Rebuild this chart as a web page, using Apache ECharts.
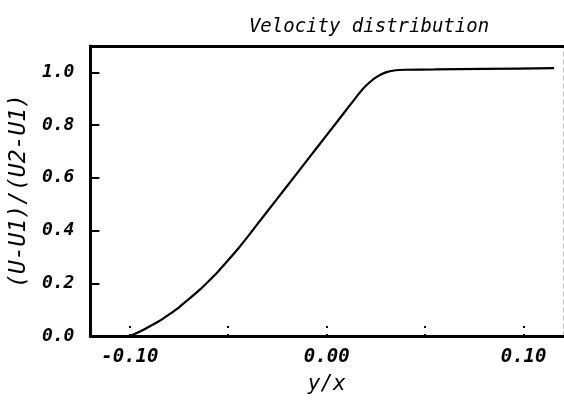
<!DOCTYPE html>
<html>
<head>
<meta charset="utf-8">
<script src="https://cdn.jsdelivr.net/npm/echarts@6/dist/echarts.min.js"></script>
<style>
  html, body { margin: 0; padding: 0; background: #fff; }
  #chart { width: 564px; height: 402px; }
</style>
</head>
<body>
<div id="chart"></div>
<script>
// Normalised mean velocity across the mixing layer
const yOverX = [-0.100, -0.095, -0.090, -0.085, -0.080, -0.075, -0.070, -0.065, -0.060,
                -0.055, -0.050, -0.045, -0.040, -0.030, -0.020, -0.010, 0.000, 0.010,
                0.017, 0.020, 0.025, 0.030, 0.035, 0.040, 0.055, 0.080, 0.1155];
const uRatio = [0.000, 0.016, 0.036, 0.057, 0.082, 0.109, 0.140, 0.172, 0.208,
                0.246, 0.288, 0.331, 0.378, 0.474, 0.570, 0.666, 0.762, 0.858,
                0.925, 0.950, 0.981, 1.000, 1.008, 1.010, 1.011, 1.013, 1.016];

const xTicks = [-0.10, -0.05, 0.00, 0.05, 0.10];
const xLabels = [-0.10, 0.00, 0.10];
const yTicks = [0.0, 0.2, 0.4, 0.6, 0.8, 1.0];

const FONT = 'DejaVu Sans Mono';

const chart = echarts.init(document.getElementById('chart'));
chart.setOption({
  backgroundColor: '#ffffff',
  animation: false,
  title: {
    text: 'Velocity distribution',
    left: 364,
    textAlign: 'center',
    top: 13,
    textStyle: { fontFamily: FONT, fontStyle: 'italic', fontWeight: 'normal', fontSize: 19, color: '#000' }
  },
  grid: { left: 88, right: 1, top: 46, bottom: 66 },
  xAxis: [{
    type: 'value',
    min: -0.12,
    max: 0.12,
    name: 'y/x',
    nameLocation: 'middle',
    nameGap: 38,
    nameTextStyle: { fontFamily: FONT, fontStyle: 'italic', fontSize: 21, color: '#000' },
    axisLine: { show: true, onZero: false, lineStyle: { color: '#000', width: 3 } },
    axisTick: { show: true, inside: true, length: 10, customValues: xTicks,
                lineStyle: { color: '#000', width: 2, type: [2, 6] } },
    axisLabel: { customValues: xLabels, margin: 12, color: '#000',
                 fontFamily: FONT, fontStyle: 'italic', fontWeight: 'bold', fontSize: 19,
                 formatter: v => v.toFixed(2) },
    splitLine: { show: false }
  }, {
    type: 'value',
    position: 'top',
    min: -0.12,
    max: 0.12,
    axisLine: { show: true, onZero: false, lineStyle: { color: '#000', width: 3 } },
    axisTick: { show: false },
    axisLabel: { show: false },
    splitLine: { show: false }
  }],
  yAxis: [{
    type: 'value',
    min: 0,
    max: 1.1,
    name: '(U-U1)/(U2-U1)',
    nameLocation: 'middle',
    nameRotate: 90,
    nameGap: 52,
    nameTextStyle: { fontFamily: FONT, fontStyle: 'italic', fontSize: 23, color: '#000' },
    axisLine: { show: true, onZero: false, lineStyle: { color: '#000', width: 3 } },
    axisTick: { show: true, inside: true, length: 9, customValues: yTicks,
                lineStyle: { color: '#000', width: 2 } },
    axisLabel: { customValues: yTicks, margin: 16, color: '#000',
                 fontFamily: FONT, fontStyle: 'italic', fontWeight: 'bold', fontSize: 18,
                 formatter: v => v.toFixed(1) },
    splitLine: { show: false }
  }, {
    type: 'value',
    position: 'right',
    min: 0,
    max: 1.1,
    axisLine: { show: true, onZero: false, lineStyle: { color: '#bbb', width: 1, type: [4, 4] } },
    axisTick: { show: false },
    axisLabel: { show: false },
    splitLine: { show: false }
  }],
  series: [{
    type: 'line',
    data: yOverX.map((x, i) => [x, uRatio[i]]),
    smooth: 0.2,
    symbol: 'none',
    lineStyle: { color: '#000', width: 2.2 }
  }]
});
</script>
</body>
</html>
